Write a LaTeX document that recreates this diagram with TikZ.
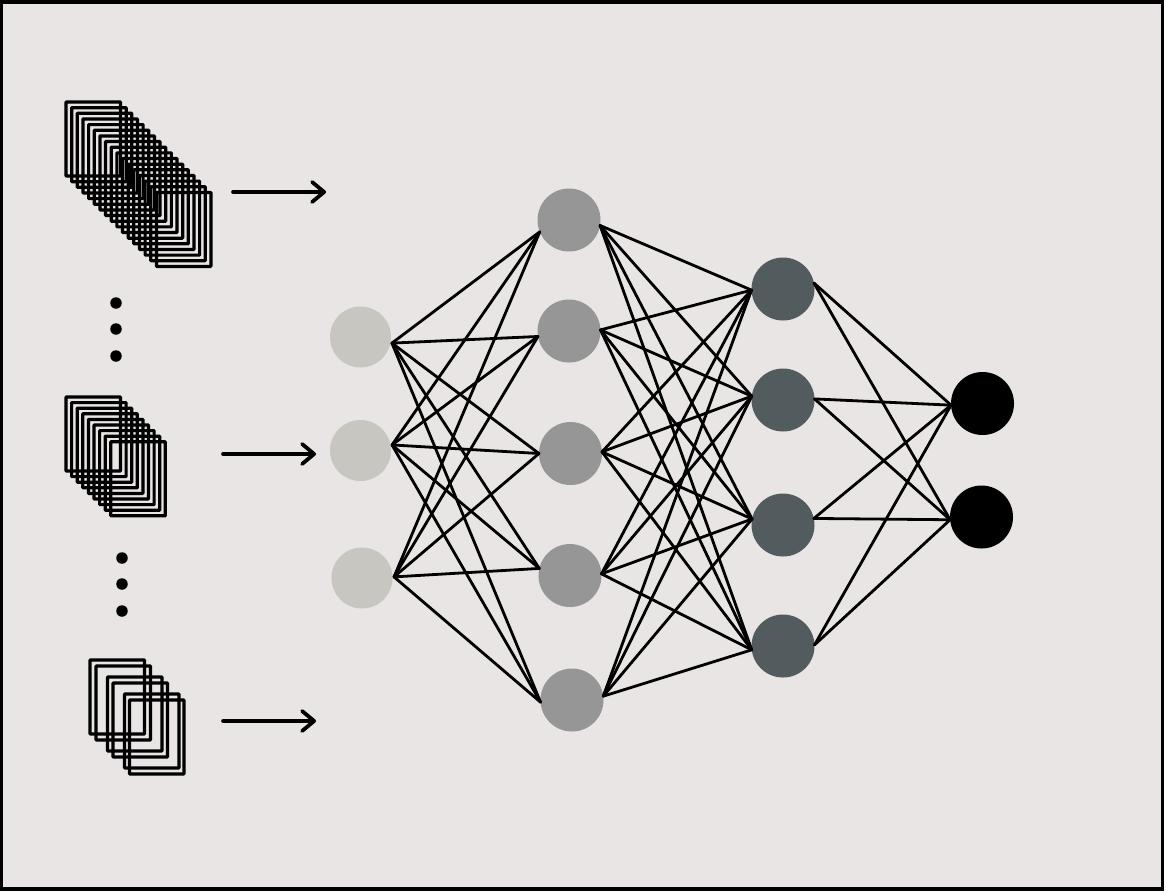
\documentclass[tikz,border=0pt]{standalone}
\usepackage{xcolor}
\usetikzlibrary{arrows.meta}
\definecolor{paper}{HTML}{E8E5E4}
\definecolor{inputgray}{HTML}{C8C6C1}
\definecolor{hiddengray}{HTML}{969696}
\definecolor{deepgray}{HTML}{525C5E}
\tikzset{
	neuron/.style={circle, minimum size=63pt, inner sep=0pt, outer sep=0pt, fill=#1},
	inneuron/.style={neuron=inputgray, minimum size=61pt, outer sep=1.5pt},
	link/.style={line width=2.8pt, line cap=round},
	frame/.style={draw=black, line width=3.2pt, fill=none, rounded corners=0.6pt},
	flow/.style={line width=3.6pt, line cap=round, -{Straight Barb[length=12pt, width=20pt, line width=3.8pt, round]}},
	dot/.style={circle, fill=black, minimum size=11.5pt, inner sep=0pt}
}
\begin{document}
\begin{tikzpicture}[x=1pt, y=-1pt]
	\useasboundingbox (0,0) rectangle (1166,892);
	\filldraw[fill=paper, draw=black, line width=3.8pt] (1,2) rectangle (1162.5,889);

	% image stacks
	\foreach \n in {0,...,16}
		\draw[frame] (66+5.65*\n,102+5.65*\n) rectangle ++(54.5,74);
	\foreach \n in {0,...,8}
		\draw[frame] (66+5.6*\n,397+5.6*\n) rectangle ++(54.5,74);
	\foreach \x/\y in {90/660, 96/666, 107.5/677, 113/683, 124.5/694, 129.5/700}
		\draw[frame] (\x,\y) rectangle ++(54.5,74);

	% dots
	\foreach \i/\y in {1/303, 2/329, 3/356}
		\node[dot] (up\i) at (116,\y) {};
	\foreach \i/\y in {1/558, 2/584, 3/611}
		\node[dot] (low\i) at (122,\y) {};

	% neurons
	\node[inneuron] (a1) at (360.5,337) {};
	\node[inneuron] (a2) at (360.5,450.5) {};
	\node[inneuron] (a3) at (362,578) {};
	\node[neuron=hiddengray] (b1) at (569,220) {};
	\node[neuron=hiddengray] (b2) at (569,331) {};
	\node[neuron=hiddengray] (b3) at (570.5,453.5) {};
	\node[neuron=hiddengray] (b4) at (570,575.5) {};
	\node[neuron=hiddengray] (b5) at (572,700) {};
	\node[neuron=deepgray] (c1) at (783,289) {};
	\node[neuron=deepgray] (c2) at (783,400) {};
	\node[neuron=deepgray] (c3) at (783,525) {};
	\node[neuron=deepgray] (c4) at (783,646) {};
	\node[neuron=black] (d1) at (982.5,403.5) {};
	\node[neuron=black] (d2) at (981.5,517) {};

	% links
	\foreach \i/\p in {1/-11, 2/10, 3/2}
		\foreach \j/\q in {1/202, 2/190, 3/180, 4/167, 5/184}
			\draw[link] (a\i.\p) -- (b\j.\q);
	\foreach \i/\p in {1/-10, 2/2, 3/3, 4/3, 5/7}
		\foreach \j/\q in {1/182, 2/173, 3/169, 4/187}
			\draw[link] (b\i.\p) -- (c\j.\q);
	\foreach \i/\p in {1/11, 2/2, 3/12, 4/2}
		\foreach \j/\q in {1/183, 2/185}
			\draw[link] (c\i.\p) -- (d\j.\q);

	% arrows
	\coordinate (s1) at (233,192);
	\coordinate (e1) at (326,192);
	\coordinate (s2) at (223,454);
	\coordinate (e2) at (316,454);
	\coordinate (s3) at (223,721);
	\coordinate (e3) at (316,721);
	\foreach \i in {1,2,3}
		\draw[flow] (s\i) -- (e\i);
\end{tikzpicture}
\end{document}
